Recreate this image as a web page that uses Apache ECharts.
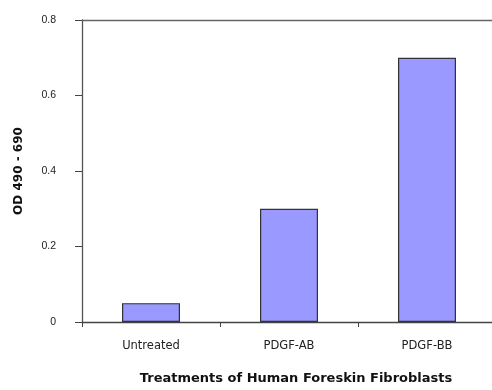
<!DOCTYPE html>
<html><head><meta charset="utf-8">
<script src="https://cdn.jsdelivr.net/npm/echarts@6/dist/echarts.min.js"></script>
<style>html,body{margin:0;padding:0;background:#fff;overflow:hidden}#wrap{width:492px;height:390px;overflow:hidden;position:relative}#c{width:496px;height:390px;position:absolute;left:0;top:0}</style>
</head><body><div id="wrap"><div id="c"></div></div>
<script>
const categories = ["Untreated", "PDGF-AB", "PDGF-BB"];
const odValues = [0.05, 0.30, 0.70];
const yTicks = [0, 0.2, 0.4, 0.6, 0.8];
const xTitle = "Treatments of Human Foreskin Fibroblasts";
const yTitle = "OD 490 - 690";

const chart = echarts.init(document.getElementById('c'), null, {renderer: 'canvas', width: 496, height: 390});
const font = 'Liberation Sans, Arial, sans-serif';
chart.setOption({
  animation: false,
  grid: {left: 82, top: 20, right: 0, bottom: 65, containLabel: false},
  xAxis: [{
    type: 'category', data: categories,
    axisLine: {lineStyle: {color: '#444', width: 1.3}},
    axisTick: {show: true, length: 5, alignWithLabel: false, lineStyle: {color: '#444'}},
    axisLabel: {color: '#222', fontFamily: 'DejaVu Sans, sans-serif', fontSize: 11.5, margin: 18},
    name: xTitle, nameLocation: 'middle', nameGap: 50,
    nameTextStyle: {color: '#111', fontFamily: 'DejaVu Sans, sans-serif', fontWeight: 'bold', fontSize: 13, padding: [0,0,0,14]}
  }, {
    type: 'category', data: categories, position: 'top',
    axisLine: {show: true, lineStyle: {color: '#666', width: 1.3}},
    axisTick: {show: false}, axisLabel: {show: false}
  }],
  yAxis: {
    type: 'value', min: yTicks[0], max: yTicks[yTicks.length-1], interval: 0.2,
    axisLine: {show: true, lineStyle: {color: '#555', width: 1.3}},
    axisTick: {show: true, length: 7, lineStyle: {color: '#444'}},
    splitLine: {show: false},
    axisLabel: {color: '#222', fontFamily: font, fontSize: 10.5, margin: 26,
      formatter: v => v === 0 ? '0' : String(v)},
    name: yTitle, nameLocation: 'middle', nameGap: 57, nameRotate: 90,
    nameTextStyle: {color: '#111', fontFamily: 'DejaVu Sans, sans-serif', fontWeight: 'bold', fontSize: 12}
  },
  series: [{
    type: 'bar', data: odValues, barWidth: 58,
    itemStyle: {color: '#9999FF', borderColor: '#333', borderWidth: 1.2}
  }]
});
</script></body></html>
